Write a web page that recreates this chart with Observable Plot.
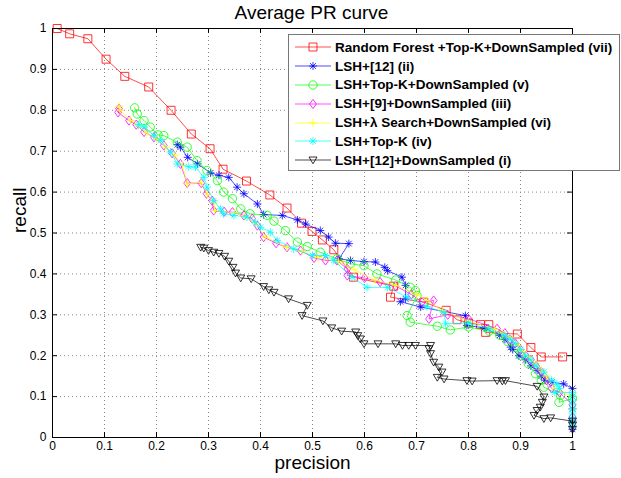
<!DOCTYPE html>
<html>
<head>
<meta charset="utf-8">
<script src="https://cdn.jsdelivr.net/npm/d3@7"></script>
<script src="https://cdn.jsdelivr.net/npm/@observablehq/plot@0.6"></script>
<style>
  html, body { margin: 0; padding: 0; background: #fff; }
  #wrap { position: relative; width: 621px; height: 478px; font-family: "Liberation Sans", Arial, sans-serif; }
  #title { height: 22px; line-height: 26px; text-align: center; font-size: 19px; color: #000; padding-left: 2px; }
  #legend { position: absolute; left: 288px; top: 34px; width: 332px; height: 137px; background: #fff;
            border: 1px solid #777; box-sizing: border-box; padding-top: 3px; }
  .row { height: 18.8px; display: flex; align-items: center; font-weight: bold; font-size: 13.5px; white-space: nowrap; }
  .row svg { margin-left: 6px; margin-right: 4px; flex: none; }
</style>
</head>
<body>
<div id="wrap">
  <div id="title">Average PR curve</div>
  <div id="chart"></div>
  <div id="legend"></div>
</div>
<script>
// ---------- data: [precision, recall] ----------
const rfTopKDS = [[0.009,1.0],[0.033,0.987],[0.068,0.975],[0.103,0.925],[0.139,0.883],[0.185,0.857],[0.228,0.80],[0.267,0.742],[0.303,0.706],[0.328,0.656],[0.373,0.627],[0.418,0.593],[0.451,0.561],[0.479,0.524],[0.499,0.504],[0.519,0.483],[0.541,0.459],[0.579,0.392],[0.656,0.37],[0.65,0.343],[0.714,0.331],[0.757,0.311],[0.778,0.288],[0.80,0.28],[0.823,0.276],[0.839,0.276],[0.833,0.257],[0.894,0.253],[0.92,0.22],[0.94,0.197],[0.981,0.197]];

const lsh12 = [[0.24,0.716],[0.246,0.71],[0.26,0.685],[0.279,0.669],[0.304,0.647],[0.32,0.641],[0.339,0.636],[0.355,0.612],[0.368,0.596],[0.394,0.571],[0.406,0.545],[0.442,0.543],[0.471,0.532],[0.487,0.522],[0.515,0.506],[0.531,0.49],[0.544,0.475],[0.57,0.474],[0.551,0.437],[0.573,0.433],[0.599,0.43],[0.621,0.429],[0.639,0.416],[0.644,0.408],[0.672,0.392],[0.679,0.372],[0.679,0.339],[0.669,0.332],[0.708,0.319],[0.794,0.298],[0.797,0.274],[0.83,0.268],[0.86,0.25],[0.87,0.24],[0.881,0.221],[0.885,0.215],[0.897,0.2],[0.91,0.19],[0.92,0.175],[0.932,0.164],[0.94,0.15],[0.947,0.14],[0.96,0.135],[0.983,0.131],[1.0,0.12],[1.0,0.1],[1.0,0.07],[1.0,0.04],[1.0,0.02]];

const lshTopKDS = [[0.158,0.806],[0.163,0.791],[0.176,0.775],[0.188,0.759],[0.203,0.74],[0.214,0.738],[0.24,0.722],[0.259,0.71],[0.278,0.677],[0.297,0.653],[0.317,0.628],[0.329,0.6],[0.346,0.584],[0.362,0.559],[0.38,0.547],[0.413,0.543],[0.426,0.529],[0.448,0.506],[0.471,0.478],[0.49,0.467],[0.515,0.453],[0.547,0.437],[0.573,0.425],[0.599,0.42],[0.624,0.40],[0.66,0.385],[0.688,0.367],[0.698,0.359],[0.701,0.347],[0.682,0.298],[0.688,0.282],[0.74,0.272],[0.765,0.263],[0.80,0.27],[0.84,0.26],[0.86,0.25],[0.875,0.235],[0.89,0.22],[0.9,0.2],[0.915,0.18],[0.929,0.156],[0.94,0.14],[0.945,0.123],[0.977,0.103],[0.974,0.086],[1.0,0.095]];

const lsh9DS = [[0.128,0.804],[0.126,0.795],[0.147,0.775],[0.161,0.765],[0.176,0.747],[0.195,0.734],[0.214,0.714],[0.23,0.695],[0.246,0.669],[0.259,0.622],[0.286,0.622],[0.296,0.596],[0.307,0.579],[0.31,0.555],[0.33,0.552],[0.346,0.551],[0.368,0.543],[0.384,0.535],[0.394,0.518],[0.406,0.49],[0.43,0.475],[0.451,0.465],[0.477,0.457],[0.503,0.439],[0.525,0.433],[0.547,0.433],[0.567,0.412],[0.567,0.396],[0.60,0.39],[0.63,0.38],[0.66,0.37],[0.69,0.35],[0.711,0.331],[0.733,0.335],[0.724,0.29],[0.76,0.30],[0.80,0.29],[0.855,0.266],[0.87,0.255],[0.88,0.24],[0.89,0.23],[0.9,0.215],[0.91,0.2],[0.92,0.19],[0.93,0.175],[0.94,0.16],[0.95,0.14],[0.96,0.12],[0.975,0.11],[1.0,0.08],[1.0,0.05]];

const lshLambdaDS = [[0.128,0.81],[0.13,0.80],[0.15,0.775],[0.165,0.762],[0.18,0.745],[0.2,0.73],[0.218,0.71],[0.235,0.69],[0.25,0.665],[0.259,0.62],[0.285,0.624],[0.298,0.595],[0.31,0.575],[0.312,0.555],[0.35,0.55],[0.37,0.54],[0.39,0.525],[0.41,0.49],[0.45,0.465],[0.48,0.455],[0.51,0.44],[0.55,0.43],[0.58,0.41],[0.62,0.385],[0.66,0.372],[0.70,0.35],[0.72,0.335],[0.75,0.31],[0.80,0.285],[0.85,0.265],[0.865,0.255],[0.88,0.245],[0.895,0.225],[0.905,0.21],[0.918,0.195],[0.93,0.18],[0.94,0.165],[0.95,0.15],[0.965,0.12],[1.0,0.1],[1.0,0.07]];

const lshTopK = [[0.165,0.765],[0.176,0.759],[0.195,0.738],[0.208,0.726],[0.227,0.698],[0.24,0.669],[0.262,0.662],[0.275,0.661],[0.291,0.636],[0.297,0.612],[0.31,0.579],[0.323,0.559],[0.329,0.547],[0.349,0.543],[0.374,0.539],[0.39,0.526],[0.40,0.514],[0.419,0.502],[0.432,0.482],[0.464,0.461],[0.50,0.445],[0.525,0.445],[0.541,0.433],[0.576,0.392],[0.605,0.367],[0.644,0.367],[0.682,0.343],[0.72,0.32],[0.753,0.306],[0.756,0.278],[0.80,0.28],[0.84,0.265],[0.87,0.25],[0.88,0.24],[0.89,0.23],[0.9,0.215],[0.91,0.2],[0.92,0.19],[0.93,0.175],[0.945,0.16],[0.96,0.14],[0.97,0.13],[0.975,0.12],[0.965,0.11],[1.0,0.11],[1.0,0.1],[1.0,0.09],[1.0,0.08],[1.0,0.07],[1.0,0.06],[1.0,0.05],[1.0,0.04],[1.0,0.03]];

const lsh12DS = [[0.285,0.465],[0.291,0.463],[0.30,0.457],[0.31,0.453],[0.32,0.45],[0.331,0.443],[0.339,0.431],[0.347,0.416],[0.352,0.402],[0.362,0.39],[0.382,0.388],[0.406,0.369],[0.416,0.361],[0.426,0.355],[0.454,0.339],[0.49,0.323],[0.48,0.298],[0.52,0.285],[0.537,0.268],[0.556,0.26],[0.583,0.258],[0.587,0.249],[0.592,0.241],[0.599,0.229],[0.626,0.229],[0.66,0.229],[0.673,0.225],[0.685,0.225],[0.698,0.225],[0.727,0.225],[0.724,0.217],[0.727,0.205],[0.733,0.184],[0.743,0.172],[0.749,0.16],[0.74,0.147],[0.753,0.143],[0.797,0.139],[0.807,0.138],[0.855,0.139],[0.865,0.138],[0.871,0.139],[0.932,0.125],[0.945,0.099],[0.942,0.086],[0.938,0.074],[0.932,0.066],[0.926,0.054],[0.945,0.046],[0.958,0.048],[1.0,0.04],[1.0,0.03],[1.0,0.02]];

const seriesNames = ["Random Forest +Top-K+DownSampled (vii)","LSH+[12] (ii)","LSH+Top-K+DownSampled (v)","LSH+[9]+DownSampled (iii)","LSH+\u03bb Search+DownSampled (vi)","LSH+Top-K (iv)","LSH+[12]+DownSampled (i)"];
const seriesColors = ["#ff0000","#0000ff","#00ff00","#ff00ff","#ffff00","#00ffff","#000000"];
const xTicks = [0,0.1,0.2,0.3,0.4,0.5,0.6,0.7,0.8,0.9,1];
const yTicks = [0,0.1,0.2,0.3,0.4,0.5,0.6,0.7,0.8,0.9,1];

// ---------- MATLAB-like marker symbols ----------
const hOf = s => Math.sqrt(s) / 2;
const symSquare = {draw(c, s){const h=hOf(s); c.moveTo(-h,-h); c.lineTo(h,-h); c.lineTo(h,h); c.lineTo(-h,h); c.closePath();}};
const symCircle = {draw(c, s){const h=hOf(s)*1.05; c.moveTo(h,0); c.arc(0,0,h,0,2*Math.PI);}};
const symDiamond = {draw(c, s){const h=hOf(s); c.moveTo(0,-h*1.15); c.lineTo(h*0.85,0); c.lineTo(0,h*1.15); c.lineTo(-h*0.85,0); c.closePath();}};
const symPlus = {draw(c, s){const h=hOf(s); c.moveTo(-h,0); c.lineTo(h,0); c.moveTo(0,-h); c.lineTo(0,h);}};
const symStar = {draw(c, s){const h=hOf(s), d=h*0.72; c.moveTo(-h,0); c.lineTo(h,0); c.moveTo(0,-h); c.lineTo(0,h); c.moveTo(-d,-d); c.lineTo(d,d); c.moveTo(-d,d); c.lineTo(d,-d);}};
const symTriDown = {draw(c, s){const h=hOf(s); c.moveTo(-h,-h*0.75); c.lineTo(h,-h*0.75); c.lineTo(0,h*0.95); c.closePath();}};

const seriesData = [rfTopKDS, lsh12, lshTopKDS, lsh9DS, lshLambdaDS, lshTopK, lsh12DS];
const seriesSymbols = [symSquare, symStar, symCircle, symDiamond, symPlus, symStar, symTriDown];

const fmt = d => String(+d.toFixed(1));

const seriesMarks = seriesData.flatMap((data, i) => [
  Plot.line(data, {x: d => d[0], y: d => d[1], stroke: seriesColors[i], strokeWidth: 0.7}),
  Plot.dot(data, {x: d => d[0], y: d => d[1], stroke: seriesColors[i], fill: "none", strokeWidth: 0.8, r: 4.5, symbol: seriesSymbols[i]})
]);

const chart = Plot.plot({
  width: 621,
  height: 456,
  marginTop: 6,
  marginLeft: 52,
  marginRight: 49,
  marginBottom: 41,
  style: {fontFamily: "'Liberation Sans', Arial, sans-serif", fontSize: "12px", background: "white", color: "black"},
  x: {domain: [0, 1]},
  y: {domain: [0, 1]},
  marks: [
    Plot.gridX(xTicks, {stroke: "#888", strokeOpacity: 1, strokeDasharray: "1,3"}),
    Plot.gridY(yTicks, {stroke: "#888", strokeOpacity: 1, strokeDasharray: "1,3"}),
    Plot.axisX(xTicks, {tickSize: 0, tickPadding: 4, tickFormat: fmt, label: null}),
    Plot.axisY(yTicks, {tickSize: 0, tickPadding: 6, tickFormat: fmt, label: null}),
    Plot.ruleX(xTicks, {x: d => d, y1: 0, y2: 0.012, stroke: "black"}),
    Plot.ruleX(xTicks, {x: d => d, y1: 1, y2: 0.988, stroke: "black"}),
    Plot.ruleY(yTicks, {y: d => d, x1: 0, x2: 0.0096, stroke: "black"}),
    Plot.ruleY(yTicks, {y: d => d, x1: 1, x2: 0.9904, stroke: "black"}),
    ...seriesMarks,
    Plot.frame({stroke: "black"}),
    Plot.text(["precision"], {frameAnchor: "bottom", dy: 31, fontSize: 19, text: d => d}),
    Plot.text(["recall"], {frameAnchor: "left", dx: -33, rotate: -90, fontSize: 19, text: d => d})
  ]
});
document.getElementById("chart").appendChild(chart);

// ---------- legend ----------
const legend = d3.select("#legend");
seriesNames.forEach((name, i) => {
  const row = legend.append("div").attr("class", "row");
  const svg = row.append("svg").attr("width", 36).attr("height", 18);
  svg.append("line").attr("x1", 0).attr("x2", 36).attr("y1", 9).attr("y2", 9)
     .attr("stroke", seriesColors[i]).attr("stroke-width", 0.7);
  const p = d3.path();
  seriesSymbols[i].draw(p, 4.5 * 4.5 * Math.PI);
  svg.append("path").attr("d", p.toString()).attr("transform", "translate(18,9)")
     .attr("fill", "none").attr("stroke", seriesColors[i]).attr("stroke-width", 0.8);
  row.append("span").text(name);
});
</script>
</body>
</html>
